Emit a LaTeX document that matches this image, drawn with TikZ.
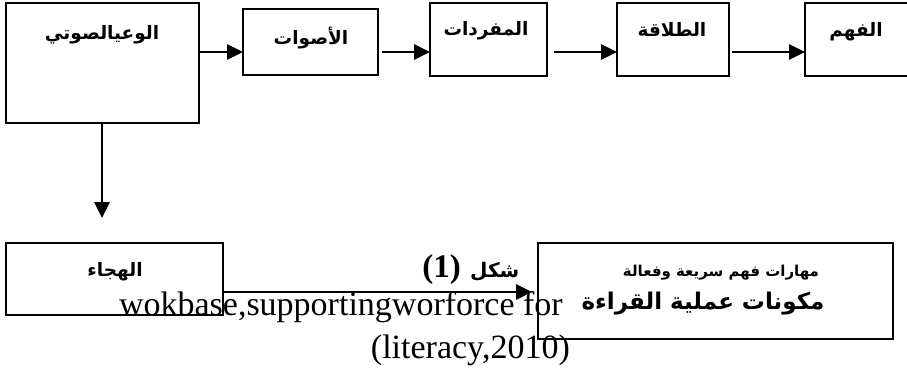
\documentclass[tikz,border=0pt]{standalone}
\usepackage{fontspec}
\setmainfont{Liberation Serif}
\newfontfamily\arabicfont[Script=Arabic]{DejaVu Sans}
\TeXXeTstate=1
\usetikzlibrary{arrows.meta}
\tikzset{
  box/.style={draw=black, line width=2.4pt, fill=none},
  conn/.style={line width=2.8pt, -{Triangle[length=16pt,width=15pt]}},
  ar/.style={font=\arabicfont\bfseries\fontsize{18.5}{20}\selectfont, inner sep=0pt},
  armid/.style={font=\arabicfont\bfseries\fontsize{15}{18}\selectfont, inner sep=0pt},
  arbig/.style={font=\arabicfont\bfseries\fontsize{23}{26}\selectfont, inner sep=0pt},
  en/.style={font=\fontsize{34}{34}\selectfont, inner sep=0pt},
}
\begin{document}
\begin{tikzpicture}[x=1pt,y=-1pt]
\clip (0,0) rectangle (907,370);
\useasboundingbox (0,0) rectangle (907,370);
% boxes
\draw[box] (6,3) rectangle (199,123);
\coordinate (b1r) at (199,52);
\coordinate (b1b) at (102,123);
\draw[box] (243,9) rectangle (378,75);
\coordinate (b2l) at (243,52);
\coordinate (b2r) at (382,52);
\draw[box] (430,3) rectangle (547,76);
\coordinate (b3l) at (430,52);
\coordinate (b3r) at (554,52);
\draw[box] (617,3) rectangle (729,76);
\coordinate (b4l) at (617,52);
\coordinate (b4r) at (732,52);
\draw[box] (805,3) rectangle (920,76);
\coordinate (b5l) at (805,52);
\draw[box] (6,243) rectangle (223,315);
\coordinate (b6r) at (223,292);
\coordinate (b6t) at (102,218);
\draw[box] (538,243) rectangle (893,339);
\coordinate (b7l) at (532,292);
% labels
\node[ar] (t1) at (102,35) {\beginR الوعيالصوتي\endR};
\node[ar] (t2) at (311,38) {\beginR الأصوات\endR};
\node[ar] (t3) at (486,31) {\beginR المفردات\endR};
\node[ar] (t4) at (672,30) {\beginR الطلاقة\endR};
\node[ar] (t5) at (856,32) {\beginR الفهم\endR};
\node[ar] (t6) at (115,272) {\beginR الهجاء\endR};
\node[armid] (t7) at (721,273) {\beginR مهارات فهم سريعة وفعالة\endR};
\node[arbig] (t8) at (703,304) {\beginR مكونات عملية القراءة\endR};
% connectors
\draw[conn] (b1r) -- (b2l);
\draw[conn] (b2r) -- (b3l);
\draw[conn] (b3r) -- (b4l);
\draw[conn] (b4r) -- (b5l);
\draw[conn] (b1b) -- (b6t);
\draw[conn] (b6r) -- (b7l);
% caption
\node[en, anchor=base east] (s1) at (563,315) {wokbase,supportingworforce for};
\node[en, anchor=base east] (s2) at (570,358) {(literacy,2010)};
\node[font=\bfseries\fontsize{33}{33}\selectfont, inner sep=0pt, anchor=base east] (f1) at (461,277) {(1)};
\node[font=\arabicfont\bfseries\fontsize{20}{22}\selectfont, inner sep=0pt, anchor=base west] (f2) at (470,277) {\beginR شكل\endR};
\end{tikzpicture}
\end{document}
